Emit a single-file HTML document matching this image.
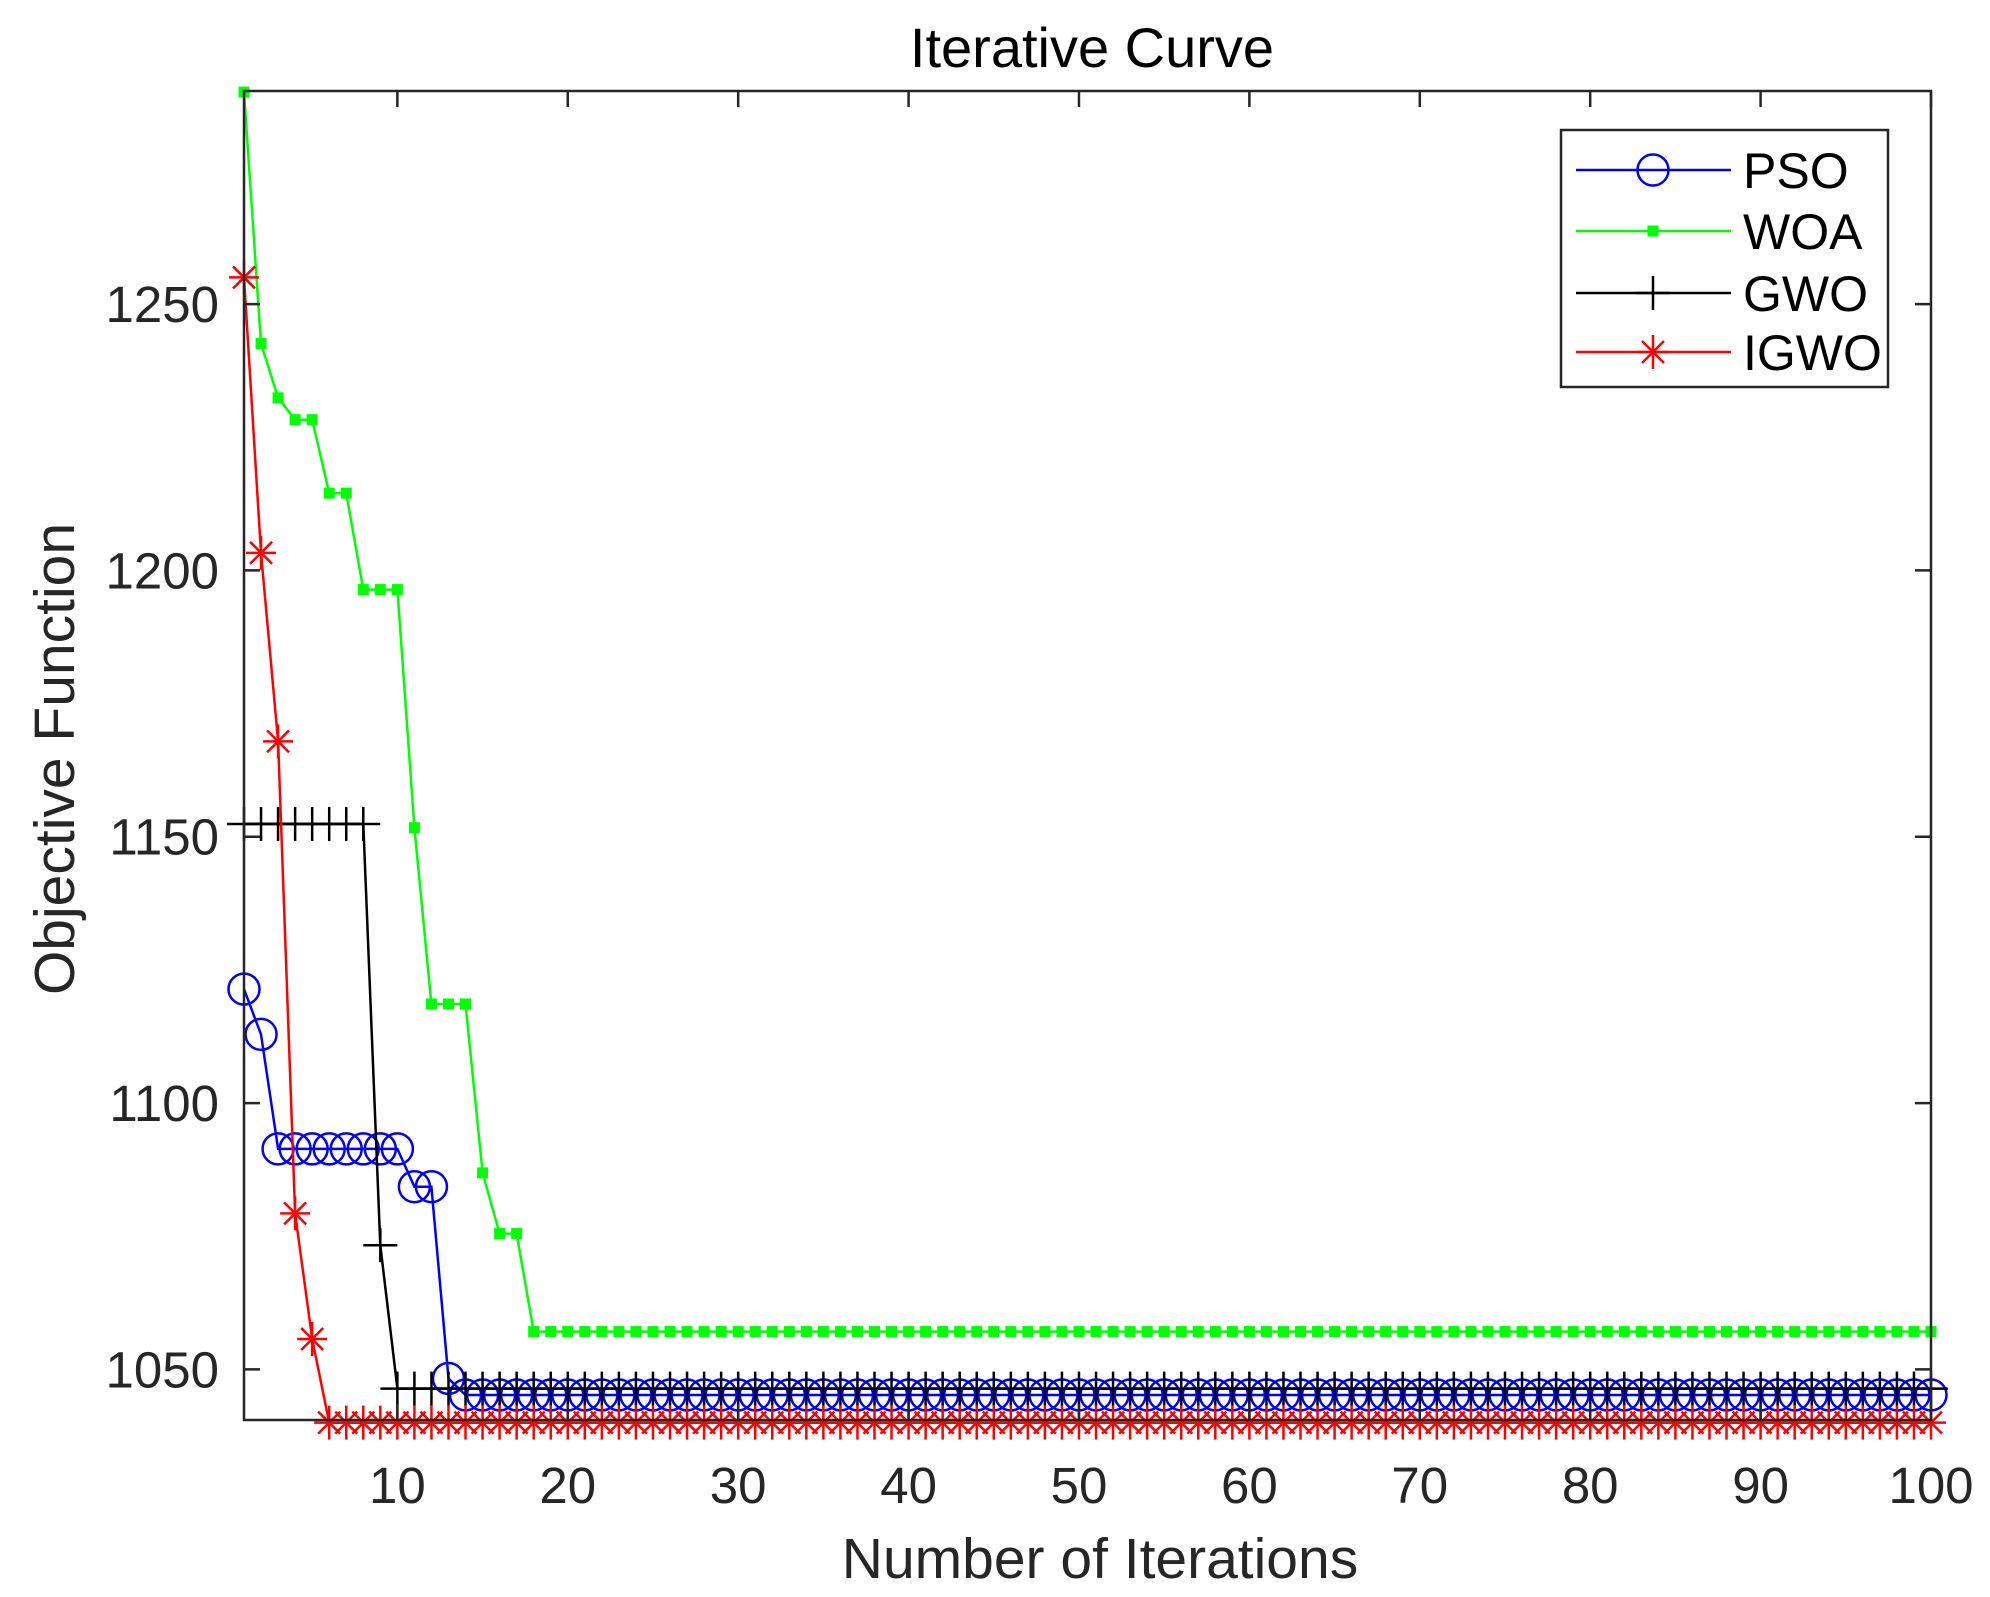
<!DOCTYPE html>
<html><head><meta charset="utf-8"><style>
html,body{margin:0;padding:0;background:#fff;}
svg{display:block;font-family:"Liberation Sans",Arial,sans-serif;}
</style></head><body>
<svg id="chart" width="1990" height="1597" viewBox="0 0 1990 1597" xmlns="http://www.w3.org/2000/svg" overflow="visible">
<rect x="0" y="0" width="1990" height="1597" fill="#fff"/>
<text x="1092" y="67" font-size="56" text-anchor="middle" fill="#000">Iterative Curve</text>
<text x="1100" y="1578" font-size="57" text-anchor="middle" fill="#262626">Number of Iterations</text>
<text transform="translate(74,759) rotate(-90)" font-size="57" text-anchor="middle" fill="#262626">Objective Function</text>
<g id="marks"></g>
<g id="axes"></g>
<g id="legend"></g>
</svg>
<script>
const xTicks=[10,20,30,40,50,60,70,80,90,100];
const yTicks=[1050,1100,1150,1200,1250];
const seriesNames=["PSO","WOA","GWO","IGWO"];
const psoHead=[1121.4,1112.9,1091.4,1091.4,1091.4,1091.4,1091.4,1091.4,1091.4,1091.4,1084.3,1084.3,1048.3];
const psoTail=1045.2;
const woaHead=[1289.8,1242.6,1232.4,1228.3,1228.3,1214.5,1214.5,1196.4,1196.4,1196.4,1151.7,1118.6,1118.6,1118.6,1086.9,1075.5,1075.5];
const woaTail=1057.1;
const gwoHead=[1152.4,1152.4,1152.4,1152.4,1152.4,1152.4,1152.4,1152.4,1073.3];
const gwoTail=1046.4;
const igwoHead=[1255,1203.3,1167.9,1079.3,1055.7];
const igwoTail=1040;
const nIter=100;

const L=244,R=1931,T=91,B=1420,XMIN=1,XMAX=100,YMIN=1040.5,YMAX=1290;
const sx=v=>L+(v-XMIN)/(XMAX-XMIN)*(R-L);
const sy=v=>B-(v-YMIN)/(YMAX-YMIN)*(B-T);
const NS="http://www.w3.org/2000/svg";
function mk(tag,attrs,parent){const e=document.createElementNS(NS,tag);for(const k in attrs)e.setAttribute(k,attrs[k]);parent.appendChild(e);return e;}
function full(head,tail){const a=head.slice();while(a.length<nIter)a.push(tail);return a;}
const series=[
 {name:"PSO",data:full(psoHead,psoTail),color:"#0000ff",marker:"circle"},
 {name:"WOA",data:full(woaHead,woaTail),color:"#00ff00",marker:"square"},
 {name:"GWO",data:full(gwoHead,gwoTail),color:"#000000",marker:"plus"},
 {name:"IGWO",data:full(igwoHead,igwoTail),color:"#ff0000",marker:"star"}
];
function drawMarker(g,type,x,y,c){
 let m;
 if(type==="circle"){m=mk("circle",{cx:x,cy:y,r:15.5,fill:"none",stroke:c,"stroke-width":2.5},g);}
 else if(type==="square"){m=mk("rect",{x:x-5.5,y:y-5.5,width:11,height:11,fill:c},g);}
 else if(type==="plus"){m=mk("path",{d:`M${x-17} ${y}H${x+17}M${x} ${y-17}V${y+17}`,stroke:c,"stroke-width":2.5,fill:"none"},g);}
 else {m=mk("path",{d:`M${x-15} ${y}H${x+15}M${x} ${y-17}V${y+17}M${x-11} ${y-11}L${x+11} ${y+11}M${x-11} ${y+11}L${x+11} ${y-11}`,stroke:c,"stroke-width":2.5,fill:"none"},g);}
 return m;
}
const marks=document.getElementById("marks");
series.forEach(s=>{
 const g=mk("g",{},marks);
 
 
 const pts=s.data.map((v,i)=>sx(i+1).toFixed(1)+","+sy(v).toFixed(1)).join(" ");
 const pl=mk("polyline",{points:pts,fill:"none",stroke:s.color,"stroke-width":2.5},g);
 
 
 s.data.forEach((v,i)=>{
  const m=drawMarker(g,s.marker,sx(i+1),sy(v),s.color);
  
  
 });
});
const axes=document.getElementById("axes");
const box=mk("rect",{x:L,y:T,width:R-L,height:B-T,fill:"none",stroke:"#262626","stroke-width":2.5},axes);


xTicks.forEach(t=>{
 const x=sx(t);
 mk("path",{d:`M${x} ${B}V${B-16}M${x} ${T}V${T+16}`,stroke:"#262626","stroke-width":2.5},axes);
 const tx=mk("text",{x:x,y:1503,"font-size":51,"text-anchor":"middle",fill:"#262626"},axes);
 tx.textContent=t;
 
 
});
yTicks.forEach(t=>{
 const y=sy(t);
 mk("path",{d:`M${L} ${y}H${L+16}M${R} ${y}H${R-16}`,stroke:"#262626","stroke-width":2.5},axes);
 const tx=mk("text",{x:219,y:y+18,"font-size":51,"text-anchor":"end",fill:"#262626"},axes);
 tx.textContent=t;
 
 
});
const leg=document.getElementById("legend");


mk("rect",{x:1561,y:130,width:327,height:257,fill:"#fff",stroke:"#262626","stroke-width":2.5},leg);
const rowY=[170,231,293,352];
series.forEach((s,i)=>{
 const g=mk("g",{},leg);
 
 
 const y=rowY[i];
 mk("line",{x1:1576,y1:y,x2:1731,y2:y,stroke:s.color,"stroke-width":2.5},g);
 drawMarker(g,s.marker,1653,y,s.color);
 const tx=mk("text",{x:1743,y:y+18,"font-size":50,fill:"#000"},g);
 tx.textContent=seriesNames[i];
});
</script>
</body></html>
